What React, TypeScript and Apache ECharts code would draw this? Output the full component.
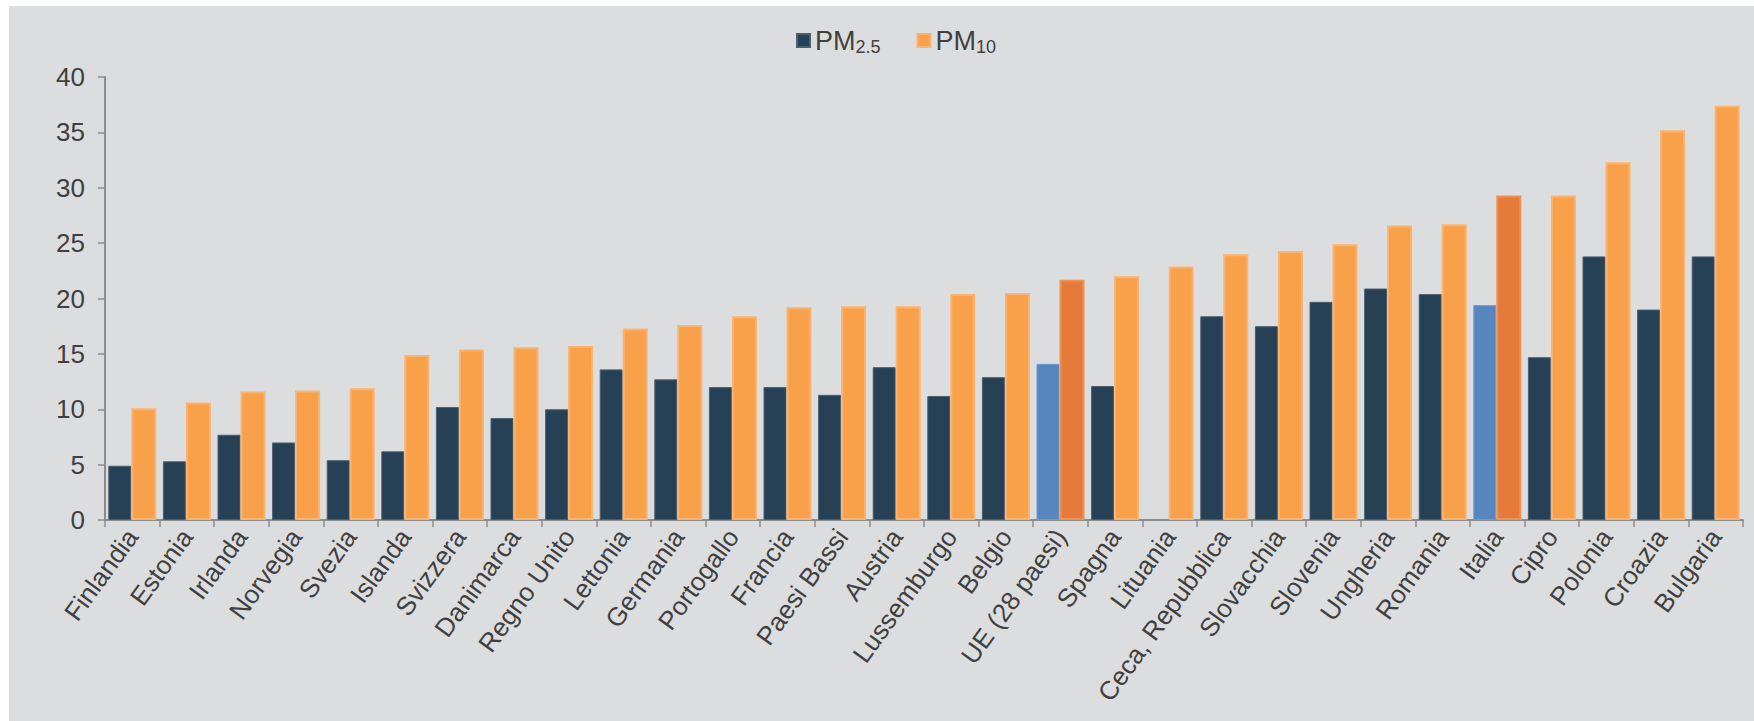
import React, { useEffect, useRef } from "react";
import * as echarts from "echarts";

const categories = [
  "Finlandia", "Estonia", "Irlanda", "Norvegia", "Svezia", "Islanda", "Svizzera",
  "Danimarca", "Regno Unito", "Lettonia", "Germania", "Portogallo", "Francia",
  "Paesi Bassi", "Austria", "Lussemburgo", "Belgio", "UE (28 paesi)", "Spagna",
  "Lituania", "Ceca, Repubblica", "Slovacchia", "Slovenia", "Ungheria", "Romania",
  "Italia", "Cipro", "Polonia", "Croazia", "Bulgaria",
];

const pm25: (number | null)[] = [
  4.9, 5.3, 7.7, 7.0, 5.4, 6.2, 10.2, 9.2, 10.0, 13.6, 12.7, 12.0, 12.0, 11.3,
  13.8, 11.2, 12.9, 14.1, 12.1, null, 18.4, 17.5, 19.7, 20.9, 20.4, 19.4, 14.7,
  23.8, 19.0, 23.8,
];

const pm10: number[] = [
  10.1, 10.6, 11.6, 11.7, 11.9, 14.9, 15.4, 15.6, 15.7, 17.3, 17.6, 18.4, 19.2,
  19.3, 19.3, 20.4, 20.5, 21.7, 22.0, 22.9, 24.0, 24.3, 24.9, 26.6, 26.7, 29.3,
  29.3, 32.3, 35.2, 37.4,
];

const highlighted = ["UE (28 paesi)", "Italia"];
const yTicks = { min: 0, max: 40, interval: 5 };

const DARK = "#264055";
const ORANGE = "#f9a04b";
const BLUE = "#5786bf";
const DARK_ORANGE = "#e67a3a";
const FONT = '"Liberation Sans", Arial, Helvetica, sans-serif';

export default function App() {
  const ref = useRef<HTMLDivElement>(null);

  useEffect(() => {
    if (!ref.current) return;
    const chart = echarts.init(ref.current, null, { renderer: "svg" });

    const d25 = pm25.map((v, i) =>
      highlighted.includes(categories[i])
        ? { value: v, itemStyle: { color: BLUE, borderColor: "#6b9bd0" } }
        : v
    );
    const d10 = pm10.map((v, i) =>
      highlighted.includes(categories[i])
        ? { value: v, itemStyle: { color: DARK_ORANGE, borderColor: "#ee9155" } }
        : v
    );

    chart.setOption({
      animation: false,
      backgroundColor: "#ffffff",
      textStyle: { fontFamily: FONT },
      graphic: [
        {
          type: "rect",
          z: -10,
          silent: true,
          shape: { x: 9, y: 6, width: 1745, height: 715 },
          style: { fill: "#dcdddf" },
        },
      ],
      legend: {
        left: 791,
        top: 22,
        icon: "rect",
        itemWidth: 13,
        itemHeight: 13,
        itemGap: 36,
        data: ["PM2.5", "PM10"],
        formatter: (name: string) =>
          name === "PM2.5" ? "{m|PM}{s|2.5}" : "{m|PM}{s|10}",
        textStyle: {
          color: "#404040",
          fontFamily: FONT,
          rich: {
            m: { fontSize: 27, lineHeight: 30, color: "#404040", fontFamily: FONT },
            s: { fontSize: 18, lineHeight: 8, verticalAlign: "bottom", color: "#404040", fontFamily: FONT },
          },
        },
      },
      grid: { left: 105, right: 11, top: 77, bottom: 201, containLabel: false },
      xAxis: {
        type: "category",
        data: categories,
        axisLine: { lineStyle: { color: "#8c8c8c", width: 2 } },
        axisTick: { show: true, length: 7, lineStyle: { color: "#8c8c8c", width: 1.5 } },
        axisLabel: {
          interval: 0,
          rotate: 54,
          margin: 12,
          fontSize: 26,
          color: "#404040",
          fontFamily: FONT,
        },
      },
      yAxis: {
        type: "value",
        min: yTicks.min,
        max: yTicks.max,
        interval: yTicks.interval,
        axisLine: { show: true, lineStyle: { color: "#8c8c8c", width: 2 } },
        axisTick: { show: true, length: 7, lineStyle: { color: "#8c8c8c", width: 1.5 } },
        splitLine: { show: false },
        axisLabel: { fontSize: 26, color: "#404040", margin: 20, fontFamily: FONT },
      },
      series: [
        {
          name: "PM2.5",
          type: "bar",
          data: d25,
          barWidth: 23,
          barGap: "0%",
          itemStyle: { color: DARK, borderColor: "#4d5f6e", borderWidth: 1 },
        },
        {
          name: "PM10",
          type: "bar",
          data: d10,
          barWidth: 25,
          barGap: "0%",
          itemStyle: { color: ORANGE, borderColor: "#fbb46f", borderWidth: 2 },
        },
      ],
    });

    return () => chart.dispose();
  }, []);

  return (
    <div
      ref={ref}
      style={{ position: "absolute", left: 0, top: 0, width: 1754, height: 721 }}
    />
  );
}
